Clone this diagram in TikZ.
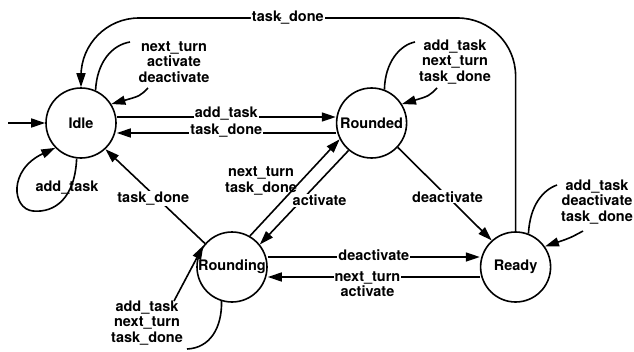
\documentclass[tikz,border=0pt]{standalone}
\usepackage{fontspec}
\setmainfont{TeX Gyre Heros}
\usetikzlibrary{positioning, arrows.meta}

\begin{document}
\begin{tikzpicture}[x=1pt, y=-1pt, font=\bfseries\fontsize{14.5}{15.5}\selectfont,
    state/.style={circle, draw, line width=1.6pt, minimum size=70pt, inner sep=0pt},
    lbl/.style={fill=white, inner sep=1pt, align=center},
    wire/.style={line width=1.6pt},
    trans/.style={wire, -{Triangle[length=14pt, width=9pt]}}]
    \useasboundingbox (0,0) rectangle (634,351);
	\node (idle) [state] at (81,123) {Idle};
	\node (rounded) [state, right=219pt of idle] {Rounded};
	\node (rounding) [state] at (232,267) {Rounding};
	\node (ready) [state, right=212pt of rounding] {Ready};
	\coordinate (start) at (8,123);
	\coordinate (top) at (81,18);
    % transitions between states
    \path [trans] (start) edge (idle)
       ([yshift=6pt] idle.east) edge node[lbl, yshift=3pt] {add\_task} ([yshift=6pt] rounded.west)
       ([yshift=-10pt] rounded.west) edge node[lbl, yshift=2pt] {task\_done} ([yshift=-10pt] idle.east)
       (rounding.139) edge node[lbl, pos=0.52, yshift=-4pt] {task\_done} (idle.-47)
       (rounding.60) edge node[left, align=center, pos=0.57] {next\_turn\\task\_done} (rounded.207)
       (rounded.230) edge node[lbl, pos=0.53, xshift=18pt] {activate} (rounding.39)
       (rounded.-43) edge node[lbl, pos=0.53] {deactivate} (ready.132)
       ([yshift=10pt] rounding.east) edge node[lbl, yshift=2pt] {deactivate} ([yshift=10pt] ready.west)
       ([yshift=-10pt] ready.west) edge node[lbl, pos=0.53, yshift=-7pt] {next\_turn\\activate} ([yshift=-10pt] rounding.east);
    \draw [trans, rounded corners=58pt] (ready.north) |- node[lbl, pos=0.762] {task\_done} (top) -- (idle.north);
    % self loops
	\node (idleup) [align=center] at (174,62) {next\_turn\\activate\\deactivate};
	\node (idledown) at (67,188) {add\_task};
	\node (roundedup) [align=center] at (455,62) {add\_task\\next\_turn\\task\_done};
	\node (readyup) [align=center] at (597,202) {add\_task\\deactivate\\task\_done};
	\node (roundingdown) [align=center] at (147,323) {add\_task\\next\_turn\\task\_done};
	\coordinate (ia) at (130,42);
	\coordinate (ib) at (148,88);
	\coordinate (ra) at (415,42);
	\coordinate (rb) at (437,88);
	\coordinate (ya) at (557,185);
	\coordinate (yb) at (583,231);
	\coordinate (ga) at (187,349);
	\coordinate (gb) at (174,301);
    \draw [wire] (idle.66) .. controls (97,62) and (112,45) .. (ia);
    \draw [trans] (ib) .. controls (140,96) .. (idle.32);
    \draw [trans] (idle.263) .. controls (75,198) and (55,213) .. (33,211) .. controls (12,209) and (8,170) .. (idle.224);
    \draw [wire] (rounded.69) .. controls (385,62) and (400,45) .. (ra);
    \draw [trans] (rb) .. controls (429,96) .. (rounded.32);
    \draw [wire] (ready.69) .. controls (530,205) and (543,190) .. (ya);
    \draw [trans] (yb) .. controls (570,238) .. (ready.35);
    \draw [wire] (rounding.253) .. controls (222,328) and (210,348) .. (ga);
    \draw [trans] (gb) -- (rounding.143);
\end{tikzpicture}
\end{document}
